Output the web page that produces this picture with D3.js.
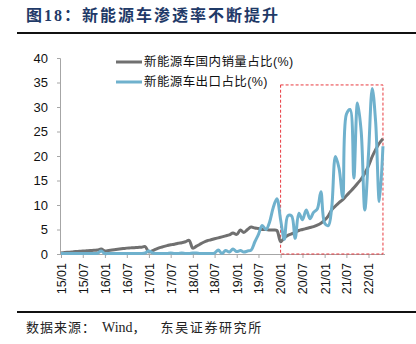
<!DOCTYPE html>
<html lang="zh">
<head>
<meta charset="UTF-8">
<title>新能源车渗透率不断提升</title>
<script src="https://d3js.org/d3.v7.min.js"></script>
<style>
  body { margin: 0; background: #fff; }
  svg { display: block; }
</style>
</head>
<body>
<svg id="chart" width="416" height="344"></svg>
<script>
// months 2015/01 .. 2022/05
const startYear = 2015, monthCount = 89;
const months = d3.range(monthCount).map(i => new Date(startYear, i, 1));

// 新能源车国内销量占比(%)
const domesticShare = [
  0.2, 0.3, 0.35, 0.4, 0.5, 0.55, 0.6, 0.65, 0.7, 0.75, 0.8, 1.0,
  0.6, 0.7, 0.8, 0.9, 1.0, 1.1, 1.2, 1.25, 1.3, 1.35, 1.4, 1.5,
  0.4, 0.7, 1.0, 1.3, 1.5, 1.7, 1.9, 2.0, 2.2, 2.3, 2.5, 2.8,
  1.2, 1.6, 2.0, 2.4, 2.7, 2.9, 3.1, 3.3, 3.5, 3.7, 3.9, 4.3,
  4.0, 4.9, 4.4, 5.0, 5.5, 5.3, 5.2, 5.0, 5.0, 4.9, 4.9, 4.8,
  2.5, 3.3, 3.8, 4.1, 4.4, 4.8, 5.0, 5.2, 5.4, 5.6, 5.9, 6.3,
  6.9, 7.8, 9.0, 9.8, 10.5, 11.1, 11.9, 12.7, 13.5, 14.4, 15.3, 16.5,
  18.0, 19.9, 21.3, 22.6, 23.5
];

// 新能源车出口占比(%)
const exportShare = [
  0.1, 0.1, 0.1, 0.1, 0.1, 0.1, 0.1, 0.1, 0.1, 0.1, 0.15, 0.6,
  0.1, 0.1, 0.1, 0.1, 0.1, 0.1, 0.1, 0.1, 0.1, 0.1, 0.1, 0.2,
  0.6, 0.2, 0.1, 0.1, 0.1, 0.1, 0.2, 0.1, 0.1, 0.2, 0.1, 0.1,
  0.2, 0.2, 0.1, 0.1, 0.1, 0.1, 0.2, 0.8, 0.1, 0.7, 0.4, 1.0,
  0.5, 0.7, 0.4, 0.6, 0.8, 2.5, 4.0, 5.8, 5.0, 6.5, 9.5, 11.3,
  7.0, 3.0, 7.8, 7.8, 3.2, 8.3, 7.0, 9.0, 7.2, 8.5, 9.2, 12.7,
  6.3, 5.8, 9.5, 19.9, 17.5, 11.5, 28.5, 29.5, 15.5, 30.8, 25.0, 9.0,
  20.5, 33.8, 27.0, 10.7, 22.0
];

const tickLabels = ["15/01", "15/07", "16/01", "16/07", "17/01", "17/07", "18/01", "18/07",
  "19/01", "19/07", "20/01", "20/07", "21/01", "21/07", "22/01"];
const yTicks = [0, 5, 10, 15, 20, 25, 30, 35, 40];
const seriesNames = ["新能源车国内销量占比(%)", "新能源车出口占比(%)"];
const highlight = { from: "20/01", to: "22/05", top: 34.5 };

const parseYM = d3.timeParse("%y/%m");
const svg = d3.select("#chart");

const x = d3.scaleTime()
  .domain([new Date(2015, 0, 1), new Date(2022, 4, 18)])
  .range([61, 385]);
const y = d3.scaleLinear().domain([0, 40]).range([254, 58]);

const serifCJK = "'Liberation Serif', 'Noto Sans CJK SC', serif";

// title + rules
svg.append("text")
  .attr("x", 26).attr("y", 21)
  .attr("fill", "#1f3a68")
  .style("font-family", serifCJK)
  .style("font-size", "16px").style("font-weight", "bold")
  .style("letter-spacing", "2px")
  .text("图18：新能源车渗透率不断提升");
svg.append("line").attr("x1", 17).attr("x2", 416).attr("y1", 33).attr("y2", 33)
  .attr("stroke", "#111").attr("stroke-width", 2);
svg.append("line").attr("x1", 17).attr("x2", 416).attr("y1", 312).attr("y2", 312)
  .attr("stroke", "#111").attr("stroke-width", 2);

const source = svg.append("text")
  .attr("x", 26).attr("y", 332)
  .attr("fill", "#222")
  .style("font-family", serifCJK)
  .style("font-size", "13px");
source.append("tspan").style("letter-spacing", "1px").text("数据来源：");
source.append("tspan").attr("dx", 6).style("font-size", "14px").text("Wind");
source.append("tspan").style("letter-spacing", "1px").text("，");
source.append("tspan").attr("dx", 14).style("letter-spacing", "1.6px").text("东吴证券研究所");

// y axis
const yAxis = svg.append("g")
  .attr("transform", "translate(60,0)")
  .call(d3.axisLeft(y).tickValues(yTicks).tickSize(3).tickPadding(9));
yAxis.select(".domain").attr("stroke", "#a6a6a6");
yAxis.selectAll(".tick line").attr("stroke", "#a6a6a6");
yAxis.selectAll("text")
  .attr("fill", "#111")
  .style("font-family", "'Liberation Sans', Arial, sans-serif")
  .style("font-size", "13px");

// x axis
const xAxis = svg.append("g")
  .attr("transform", "translate(0,254)")
  .call(d3.axisBottom(x)
    .tickValues(tickLabels.map(parseYM))
    .tickFormat(d3.timeFormat("%y/%m"))
    .tickSize(4).tickSizeOuter(0));
xAxis.select(".domain").attr("stroke", "#a6a6a6").attr("d", `M60,0.5H${x.range()[1]}`);
xAxis.selectAll(".tick line").attr("stroke", "#a6a6a6");
xAxis.selectAll("text")
  .attr("fill", "#111")
  .attr("transform", "rotate(-90)")
  .attr("text-anchor", "end")
  .attr("x", -9).attr("y", 0).attr("dy", "0.35em")
  .style("font-family", "'Liberation Sans', Arial, sans-serif")
  .style("font-size", "12.5px");

// highlighted period
const boxX0 = x(parseYM(highlight.from)), boxX1 = x(parseYM(highlight.to));
svg.append("rect")
  .attr("x", boxX0).attr("y", y(highlight.top))
  .attr("width", boxX1 - boxX0).attr("height", y(0) - y(highlight.top))
  .attr("fill", "none").attr("stroke", "#e8393f")
  .attr("stroke-width", 1).attr("stroke-dasharray", "3,2");

// lines
const colors = ["#707070", "#6fb1cd"];
const line = d3.line()
  .x((d, i) => x(months[i]))
  .y(d => y(d))
  .curve(d3.curveCatmullRom.alpha(0.5));

[domesticShare, exportShare].forEach((s, k) => {
  svg.append("path")
    .datum(s)
    .attr("fill", "none")
    .attr("stroke", colors[k])
    .attr("stroke-width", 3)
    .attr("stroke-linejoin", "round")
    .attr("d", line);
});

// legend
const legend = svg.append("g").attr("transform", "translate(116,62)");
seriesNames.forEach((name, k) => {
  const g = legend.append("g").attr("transform", `translate(0,${k * 20})`);
  g.append("line").attr("x1", 0).attr("x2", 26).attr("y1", 0).attr("y2", 0)
    .attr("stroke", colors[k]).attr("stroke-width", 3);
  g.append("text").attr("x", 28).attr("y", 0).attr("dy", "0.35em")
    .attr("fill", "#111")
    .style("font-family", "'Liberation Sans', 'Noto Sans CJK SC', sans-serif")
    .style("font-size", "12.5px")
    .style("letter-spacing", "0.4px")
    .text(name);
});
</script>
</body>
</html>
